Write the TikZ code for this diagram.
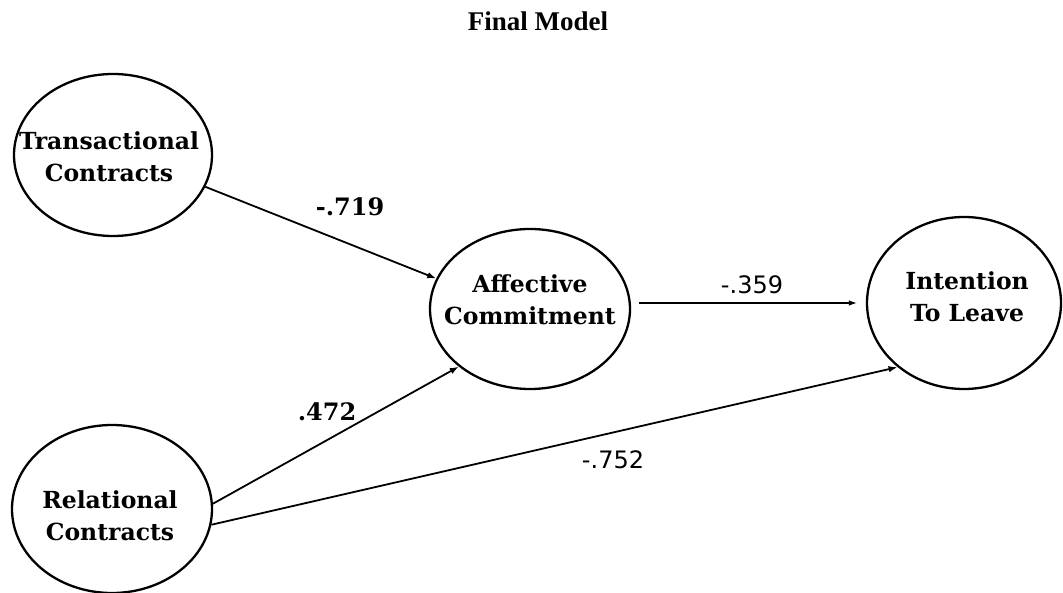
\documentclass[tikz,border=0pt]{standalone}
\usepackage{fontspec}
\usetikzlibrary{shapes.geometric,arrows.meta}
\setmainfont{Liberation Serif}
\newfontfamily\nodefont{DejaVu Serif}
\newfontfamily\numsans{DejaVu Sans}
\begin{document}
\begin{tikzpicture}[x=1pt,y=-1pt,
  construct/.style={ellipse,draw,line width=2.3pt,inner sep=0pt},
  ctext/.style={align=center,font=\nodefont\bfseries\fontsize{23.5}{32}\selectfont},
  path/.style={line width=1.8pt,-{Latex[length=9pt,width=6.5pt]}},
  coef/.style={font=\nodefont\bfseries\fontsize{24}{28}\selectfont},
  coefsans/.style={font=\numsans\fontsize{24}{28}\selectfont}]
\useasboundingbox (0,0) rectangle (1063,593);

\node[font=\bfseries\fontsize{27}{32}\selectfont] (title) at (538,21) {Final Model};

% latent constructs
\node[construct,minimum width=198pt,minimum height=162pt] (tc) at (113,155) {};
\node[construct,minimum width=200pt,minimum height=160pt] (ac) at (530,309) {};
\node[construct,minimum width=194pt,minimum height=172pt] (il) at (964,303) {};
\node[construct,minimum width=200pt,minimum height=168pt] (rc) at (112,509) {};

\node[ctext] (tct) at (109,157) {Transactional\\Contracts};
\node[ctext] (act) at (530,300) {Affective\\Commitment};
\node[ctext] (ilt) at (967,297) {Intention\\To Leave};
\node[ctext] (rct) at (110,516) {Relational\\Contracts};

% structural paths
\draw[path] (tc.-19) -- (ac.162);
\draw[path] (rc.3) -- (ac.219);
\draw[path] (rc.-9) -- (il.224);
\draw[line width=1.1pt,-{Latex[length=8pt,width=5.5pt]},shorten <=8pt,shorten >=9pt]
  (ac.east |- il.west) -- (il.west);

% path coefficients
\node[coef] (c1) at (350,207) {-.719};
\node[coef] (c2) at (327,412) {.472};
\node[coefsans] (c3) at (752,285) {-.359};
\node[coefsans] (c4) at (613,460) {-.752};
\end{tikzpicture}
\end{document}
